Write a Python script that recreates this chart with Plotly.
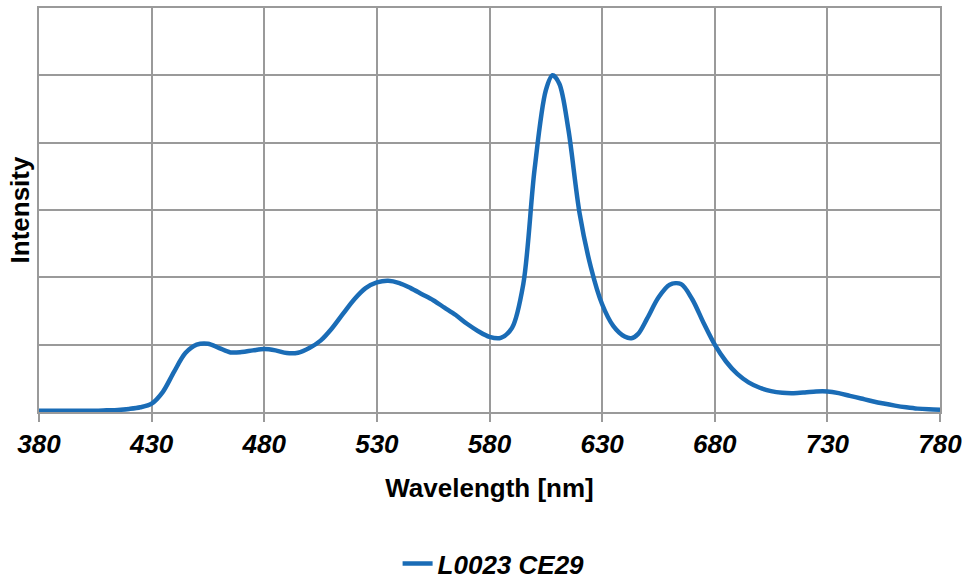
import plotly.graph_objects as go

# Relative emission spectrum of the L0023 CE29 source
wavelength_nm = [380, 385, 390, 395, 400, 405, 410, 415, 420, 425,
                 430, 435, 440, 445, 450, 455, 460, 465, 470, 475,
                 480, 485, 490, 495, 500, 505, 510, 515, 520, 525,
                 530, 535, 540, 545, 550, 555, 560, 565, 570, 575,
                 580, 585, 590, 595, 600, 605, 608, 611, 615, 620,
                 625, 630, 635, 640, 643, 646, 650, 655, 660, 665,
                 670, 675, 680, 685, 690, 695, 700, 705, 710, 715,
                 720, 725, 730, 735, 740, 745, 750, 755, 760, 765,
                 770, 775, 780]
intensity = [0.004, 0.004, 0.004, 0.004, 0.004, 0.004, 0.005, 0.006, 0.009, 0.014,
             0.025, 0.060, 0.120, 0.175, 0.200, 0.203, 0.190, 0.177, 0.178, 0.183,
             0.187, 0.183, 0.175, 0.176, 0.190, 0.212, 0.248, 0.292, 0.335, 0.368,
             0.385, 0.390, 0.383, 0.368, 0.350, 0.332, 0.310, 0.288, 0.262, 0.240,
             0.223, 0.220, 0.250, 0.380, 0.720, 0.955, 1.000, 0.975, 0.840, 0.590,
             0.430, 0.320, 0.255, 0.224, 0.219, 0.232, 0.278, 0.340, 0.378, 0.380,
             0.335, 0.265, 0.200, 0.150, 0.113, 0.088, 0.072, 0.062, 0.057, 0.056,
             0.058, 0.061, 0.061, 0.056, 0.048, 0.040, 0.032, 0.025, 0.019, 0.014,
             0.010, 0.008, 0.007]
series_name = "L0023 CE29"
x_ticks = [380, 430, 480, 530, 580, 630, 680, 730, 780]

LINE_BLUE = "#1a6cb6"
GRID = "#9a9a9a"
FONT = "Liberation Sans, Arial, sans-serif"
TEXT_SIZE = 26

fig = go.Figure()
fig.add_trace(go.Scatter(
    x=wavelength_nm, y=intensity, name=series_name, mode="lines",
    line=dict(color=LINE_BLUE, width=4.5, shape="spline", smoothing=0.9),
    showlegend=True,
))

fig.update_layout(
    width=962, height=581,
    margin=dict(l=39, r=22, t=8, b=169),
    paper_bgcolor="white", plot_bgcolor="white",
    font=dict(family=FONT, color="black"),
    showlegend=True,
    legend=dict(
        orientation="h", x=0.398, xanchor="left",
        yref="container", y=0.03, yanchor="middle",
        font=dict(family=FONT, size=TEXT_SIZE, color="black", weight="bold", style="italic"),
        bgcolor="rgba(0,0,0,0)",
    ),
    xaxis=dict(
        range=[380, 780], tickmode="array", tickvals=x_ticks,
        ticktext=[str(v) for v in x_ticks],
        showgrid=True, gridcolor=GRID, gridwidth=1.5,
        showline=True, linecolor=GRID, linewidth=1.5, mirror=True,
        ticks="outside", ticklen=8, tickcolor=GRID, tickwidth=1.5,
        ticklabelstandoff=0, ticklabeloverflow="allow",
        tickfont=dict(family=FONT, size=TEXT_SIZE, color="black", weight="bold", style="italic"),
        zeroline=False, automargin=False,
        title=dict(text="Wavelength [nm]", standoff=21,
                   font=dict(family=FONT, size=TEXT_SIZE, color="black", weight="bold")),
    ),
    yaxis=dict(
        range=[0, 1.2], dtick=0.2, tick0=0,
        showticklabels=False,
        showgrid=True, gridcolor=GRID, gridwidth=1.5,
        showline=True, linecolor=GRID, linewidth=1.5, mirror=True,
        zeroline=False, automargin=False,
        title=dict(text="Intensity", standoff=0,
                   font=dict(family=FONT, size=TEXT_SIZE, color="black", weight="bold")),
    ),
)

fig.write_html("out.html")
